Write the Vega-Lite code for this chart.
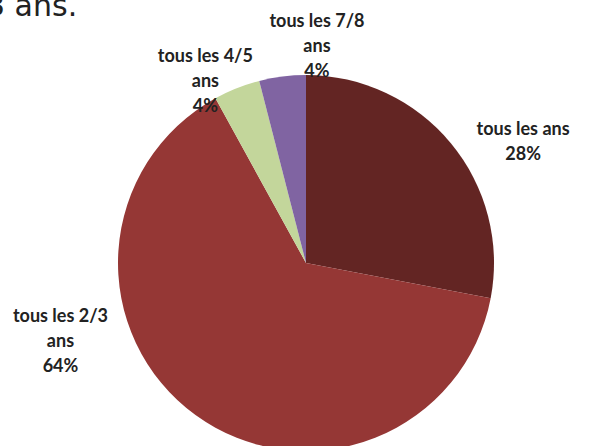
{
  "$schema": "https://vega.github.io/schema/vega-lite/v6.json",
  "autosize": "none",
  "width": 568,
  "height": 366,
  "padding": {"left": 22, "top": 80, "right": 0, "bottom": 0},
  "background": "white",
  "view": {"stroke": null},
  "title": {
    "text": "3 ans.",
    "anchor": "start",
    "frame": "group",
    "orient": "top",
    "font": "DejaVu Sans",
    "fontSize": 30,
    "fontWeight": "normal",
    "color": "#222222",
    "offset": 0,
    "dy": 74,
    "dx": -36
  },
  "data": {
    "values": [
      {"cat": "tous les ans", "value": 28, "label": "tous les ans\n28%", "ord": 1},
      {"cat": "tous les 2/3 ans", "value": 64, "label": "tous les 2/3\nans\n64%", "ord": 2},
      {"cat": "tous les 4/5 ans", "value": 4, "label": "tous les 4/5\nans\n4%", "ord": 3},
      {"cat": "tous les 7/8 ans", "value": 4, "label": "tous les 7/8\nans\n4%", "ord": 4}
    ]
  },
  "encoding": {
    "theta": {"field": "value", "type": "quantitative", "stack": true},
    "order": {"field": "ord", "type": "quantitative"}
  },
  "layer": [
    {
      "mark": {"type": "arc", "outerRadius": 188, "stroke": null},
      "encoding": {
        "color": {
          "field": "cat",
          "type": "nominal",
          "scale": {
            "domain": ["tous les ans", "tous les 2/3 ans", "tous les 4/5 ans", "tous les 7/8 ans"],
            "range": ["#632523", "#953735", "#C3D69B", "#8064A2"]
          },
          "legend": null
        }
      }
    },
    {
      "mark": {"type": "text", "radius": 200, "dx": 63, "dy": -6, "lineBreak": "\n", "lineHeight": 25, "font": "Lato", "fontSize": 18, "fontWeight": "bold", "color": "#222222", "baseline": "middle", "align": "center"},
      "encoding": {"text": {"condition": {"test": "datum.cat === 'tous les ans'", "field": "label", "type": "nominal"}, "value": ""}}
    },
    {
      "mark": {"type": "text", "radius": 200, "dx": -128, "dy": -108, "lineBreak": "\n", "lineHeight": 25, "font": "Lato", "fontSize": 18, "fontWeight": "bold", "color": "#222222", "baseline": "middle", "align": "center"},
      "encoding": {"text": {"condition": {"test": "datum.cat === 'tous les 2/3 ans'", "field": "label", "type": "nominal"}, "value": ""}}
    },
    {
      "mark": {"type": "text", "radius": 200, "dx": -27, "dy": -20, "lineBreak": "\n", "lineHeight": 25, "font": "Lato", "fontSize": 18, "fontWeight": "bold", "color": "#222222", "baseline": "middle", "align": "center"},
      "encoding": {"text": {"condition": {"test": "datum.cat === 'tous les 4/5 ans'", "field": "label", "type": "nominal"}, "value": ""}}
    },
    {
      "mark": {"type": "text", "radius": 200, "dx": 36, "dy": -43, "lineBreak": "\n", "lineHeight": 25, "font": "Lato", "fontSize": 18, "fontWeight": "bold", "color": "#222222", "baseline": "middle", "align": "center"},
      "encoding": {"text": {"condition": {"test": "datum.cat === 'tous les 7/8 ans'", "field": "label", "type": "nominal"}, "value": ""}}
    }
  ]
}
